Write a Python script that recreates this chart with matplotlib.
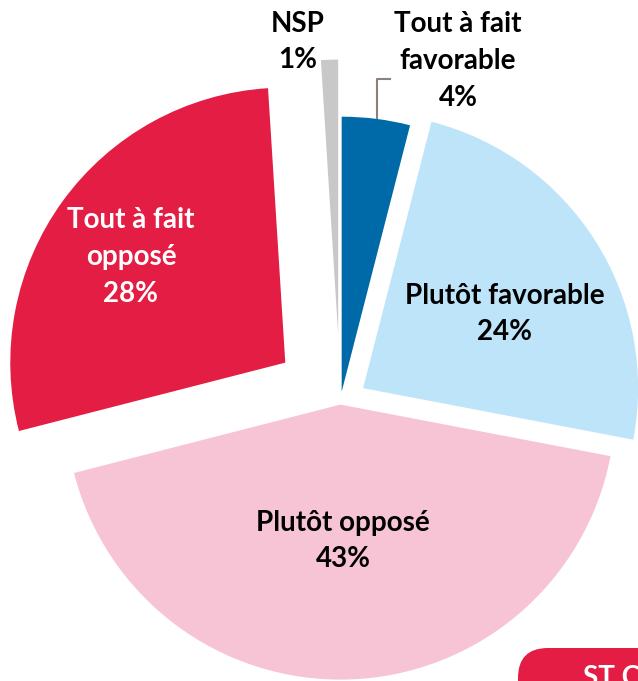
import matplotlib
matplotlib.use('Agg')
import matplotlib.pyplot as plt
from matplotlib import patches

# slices, clockwise from 12 o'clock
labels = ['Tout à fait\nfavorable', 'Plutôt favorable', 'Plutôt opposé',
          'Tout à fait\nopposé', 'NSP']
values = [4, 24, 43, 28, 1]
colors = ['#0069A7', '#BDE4F9', '#F7C4D5', '#E31D43', '#C8C8C8']
explode = [11, 27, 2, 68, 68]   # in pixels (axes are in pixel units)

W, H = 638, 681
fig = plt.figure(figsize=(W / 100, H / 100), dpi=100)
ax = fig.add_axes([0, 0, 1, 1])

cx, cy, r = 340.3, H - 402.6, 275
wedges, _ = ax.pie(values, colors=colors, explode=explode, startangle=90,
                   counterclock=False, radius=r, center=(cx, cy),
                   wedgeprops=dict(linewidth=0))
ax.set_xlim(0, W)
ax.set_ylim(0, H)
ax.set_aspect('equal')
ax.axis('off')

font = dict(family=['Lato', 'DejaVu Sans'], fontweight='bold', fontsize=20,
            ha='center', va='center', linespacing=1.5)

def txt(x, y, s, color='black'):
    ax.text(x, H - y, s, color=color, **font)

txt(298, 42, 'NSP\n%d%%' % values[4])
txt(458, 61, '%s\n%d%%' % (labels[0], values[0]))
txt(505, 314, '%s\n%d%%' % (labels[1], values[1]))
txt(343, 541, '%s\n%d%%' % (labels[2], values[2]))
txt(131, 257, '%s\n%d%%' % (labels[3], values[3]), color='white')

# leader line for the small slice
ax.plot([377, 377, 390], [H - 118, H - 79, H - 79], color='#8C8078', lw=1.5)

# red tab in the corner
ax.add_patch(patches.FancyBboxPatch((518, H - 760), 200, 112,
                                    boxstyle='round,pad=0,rounding_size=30',
                                    fc='#E31D43', ec='none'))
ax.text(583, H - 678, 'ST C', color='white', fontsize=20, fontweight='bold',
        family=['Lato', 'DejaVu Sans'], ha='left', va='center')

fig.savefig('out.png', dpi=100)
